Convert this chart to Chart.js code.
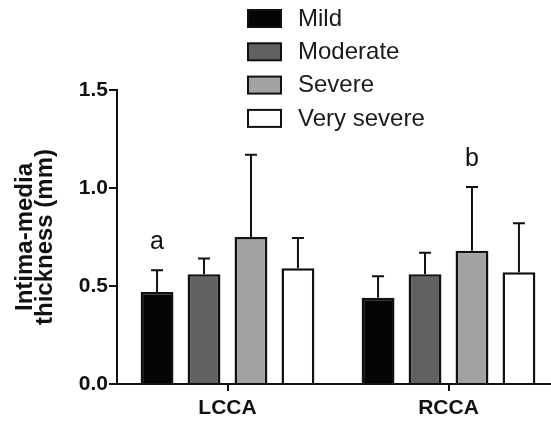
<!DOCTYPE html>
<html><head><meta charset="utf-8">
<script src="https://cdn.jsdelivr.net/npm/chart.js@4"></script>
<style>html,body{margin:0;padding:0;background:#fff;overflow:hidden;width:551px;height:421px}</style>
</head><body>
<canvas id="chart" width="559" height="421"></canvas>
<script>
const categories = ['LCCA', 'RCCA'];
const groups = ['Mild', 'Moderate', 'Severe', 'Very severe'];
const mild = [0.47, 0.44];
const moderate = [0.56, 0.56];
const severe = [0.75, 0.68];
const verySevere = [0.59, 0.57];
const mildSd = [0.11, 0.11];
const moderateSd = [0.08, 0.11];
const severeSd = [0.42, 0.325];
const verySevereSd = [0.155, 0.25];
const yTicks = [0.0, 0.5, 1.0, 1.5];
// significance letters: [group index, category index, text]
const letters = [[0, 0, 'a'], [2, 1, 'b']];

const fills = ['#050505', '#616161', '#a2a2a2', '#ffffff'];
const values = [mild, moderate, severe, verySevere];
const sds = [mildSd, moderateSd, severeSd, verySevereSd];

const errorBars = {
  id: 'errorBars',
  afterDatasetsDraw(chart) {
    const ctx = chart.ctx, y = chart.scales.y;
    ctx.save();
    ctx.strokeStyle = '#111';
    ctx.lineWidth = 2;
    chart.data.datasets.forEach((ds, i) => {
      chart.getDatasetMeta(i).data.forEach((bar, j) => {
        const top = y.getPixelForValue(ds.data[j] + ds.sd[j]);
        ctx.beginPath();
        ctx.moveTo(bar.x, bar.y);
        ctx.lineTo(bar.x, top);
        ctx.moveTo(bar.x - 6, top);
        ctx.lineTo(bar.x + 6, top);
        ctx.stroke();
      });
    });
    ctx.font = '25px "Liberation Sans", Arial';
    ctx.fillStyle = '#111';
    ctx.textAlign = 'center';
    ctx.textBaseline = 'middle';
    letters.forEach(([g, c, t]) => {
      const ds = chart.data.datasets[g];
      const bar = chart.getDatasetMeta(g).data[c];
      ctx.fillText(t, bar.x, y.getPixelForValue(ds.data[c] + ds.sd[c]) - 28);
    });
    ctx.restore();
  }
};

const boxLegend = {
  id: 'boxLegend',
  afterDraw(chart) {
    const ctx = chart.ctx;
    ctx.save();
    ctx.font = '24px "Liberation Sans", Arial';
    ctx.textBaseline = 'middle';
    ctx.textAlign = 'left';
    chart.data.datasets.forEach((ds, i) => {
      const cy = 18 + i * 33.3;
      ctx.fillStyle = ds.backgroundColor;
      ctx.fillRect(248, cy - 8, 33, 17);
      ctx.strokeStyle = '#111';
      ctx.lineWidth = 2;
      ctx.strokeRect(248, cy - 8, 33, 17);
      ctx.fillStyle = '#1a1a1a';
      ctx.fillText(ds.label, 298, cy + 1);
    });
    ctx.restore();
  }
};

new Chart(document.getElementById('chart'), {
  type: 'bar',
  data: {
    labels: categories,
    datasets: groups.map((g, i) => ({
      label: g,
      data: values[i],
      sd: sds[i],
      backgroundColor: fills[i],
      borderColor: '#111',
      borderWidth: 2.5,
      categoryPercentage: 0.85,
      barPercentage: 0.70
    }))
  },
  options: {
    responsive: false,
    animation: false,
    layout: { padding: { top: 90, left: 0, right: 0, bottom: 0 } },
    plugins: { legend: { display: false }, tooltip: { enabled: false } },
    scales: {
      x: {
        afterFit: s => { s.height = 37; },
        border: { color: '#111', width: 2 },
        grid: { offset: false, drawOnChartArea: false, drawTicks: true, tickLength: 7, color: '#111', lineWidth: 2 },
        ticks: { padding: 5, color: '#111', font: { family: '"Liberation Sans", Arial', size: 21, weight: 'bold' } }
      },
      y: {
        min: 0, max: 1.5,
        afterFit: s => { s.width = 117; },
        afterBuildTicks: s => { s.ticks = yTicks.map(v => ({ value: v })); },
        border: { color: '#111', width: 2 },
        grid: { drawOnChartArea: false, drawTicks: true, tickLength: 8, color: '#111', lineWidth: 2 },
        ticks: { padding: 1, color: '#111', callback: v => v.toFixed(1),
          font: { family: '"Liberation Sans", Arial', size: 21, weight: 'bold' } },
        title: {
          display: true,
          text: ['Intima-media', 'thickness (mm)'],
          color: '#111',
          padding: { top: 15, bottom: 0 },
          font: { family: '"Liberation Sans", Arial', size: 24, weight: 'bold', lineHeight: 0.83 }
        }
      }
    }
  },
  plugins: [errorBars, boxLegend]
});
</script>
</body></html>
